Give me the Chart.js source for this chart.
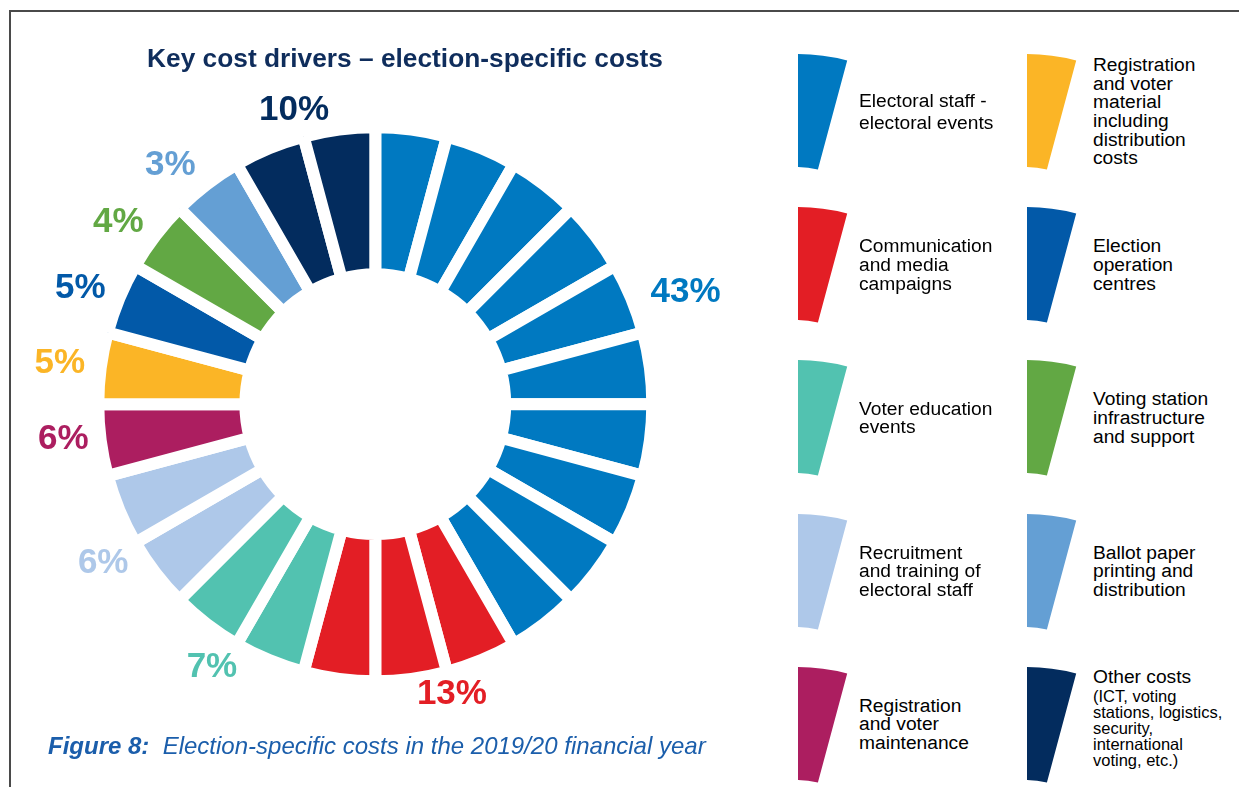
<!DOCTYPE html>
<html>
<head>
<meta charset="utf-8">
<script src="https://cdn.jsdelivr.net/npm/chart.js@4.4.0/dist/chart.umd.min.js"></script>
<style>
    body {
        margin: 0;
        width: 1239px;
        height: 787px;
        position: relative;
        overflow: hidden;
        background: #fff;
        font-family: "Liberation Sans", Arial, Helvetica, sans-serif;
    }
    #frame {
        position: absolute;
        left: 9px;
        top: 10px;
        width: 1300px;
        height: 900px;
        border-top: 2px solid #4a4a4a;
        border-left: 2px solid #4a4a4a;
    }
    #chart {
        position: absolute;
        left: 0;
        top: 0;
    }
    #title {
        position: absolute;
        left: 0;
        top: 43px;
        width: 810px;
        text-align: center;
        font-size: 26.3px;
        line-height: 30px;
        font-weight: bold;
        color: #0f2d5c;
    }
    #caption {
        position: absolute;
        left: 48px;
        top: 732px;
        font-size: 24px;
        line-height: 28px;
        font-style: italic;
        color: #1b5eab;
        white-space: pre;
    }
    #caption b {
        font-weight: bold;
    }
    .item {
        position: absolute;
        height: 116px;
        display: flex;
        align-items: center;
    }
    .item svg {
        position: absolute;
        left: 0;
        top: 0;
    }
    .item .text {
        font-size: 19.2px;
        line-height: 18.7px;
        color: #000;
        white-space: pre;
    }
    .item .note {
        font-size: 16.5px;
        line-height: 16px;
        margin-top: 1px;
    }
</style>
</head>
<body>
<div id="frame"></div>
<canvas id="chart" width="760" height="787"></canvas>
<div id="title">Key cost drivers – election-specific costs</div>
<div id="caption"><b>Figure 8:</b>  Election-specific costs in the 2019/20 financial year</div>
<div id="legend"></div>

<script>
// cost categories, clockwise from 12 o'clock
const categories = [
    'Electoral staff -\nelectoral events',
    'Communication\nand media\ncampaigns',
    'Voter education\nevents',
    'Recruitment\nand training of\nelectoral staff',
    'Registration\nand voter\nmaintenance',
    'Registration\nand voter\nmaterial\nincluding\ndistribution\ncosts',
    'Election\noperation\ncentres',
    'Voting station\ninfrastructure\nand support',
    'Ballot paper\nprinting and\ndistribution',
    'Other costs'
];
const otherNote = '(ICT, voting\nstations, logistics,\nsecurity,\ninternational\nvoting, etc.)';

// share of election-specific costs (%)
const shares = [43, 13, 7, 6, 6, 5, 5, 4, 3, 10];
// number of ring segments (out of 24) per category
const segments = [10, 3, 2, 2, 1, 1, 1, 1, 1, 2];

const colors = ['#0079c1', '#e31e25', '#52c2b0', '#aec8e9', '#ac1e60',
                '#fbb526', '#0259a8', '#62a844', '#649fd4', '#032c5e'];

// label placement: turn (deg) off the group's mid angle, distance past the ring
const labelTurn = [-4.9, -7.3, 1.8, -0.25, 1.0, -0.2, -1.0, -2.2, -3.1, -0.45];
const labelGap = [53, 23, 33, 38, 37, 41, 40, 38, 38, 28];

// one equal arc per segment
const segLabels = [];
const segValues = [];
const segColors = [];
categories.forEach((name, i) => {
    for (let s = 0; s < segments[i]; s++) {
        segLabels.push(name.replace(/\n/g, ' '));
        segValues.push(1);
        segColors.push(colors[i]);
    }
});

const shareLabels = {
    id: 'shareLabels',
    afterDatasetsDraw(chart) {
        const arcs = chart.getDatasetMeta(0).data;
        const ctx = chart.ctx;
        ctx.save();
        ctx.font = 'bold 35px "Liberation Sans", Arial, sans-serif';
        ctx.textAlign = 'center';
        ctx.textBaseline = 'middle';
        let k = 0;
        shares.forEach((v, i) => {
            const first = arcs[k];
            const last = arcs[k + segments[i] - 1];
            k += segments[i];
            const mid = (first.startAngle + last.endAngle) / 2 + labelTurn[i] * Math.PI / 180;
            const r = first.outerRadius + labelGap[i];
            ctx.fillStyle = colors[i];
            ctx.fillText(v + '%', first.x + r * Math.cos(mid), first.y + r * Math.sin(mid));
        });
        ctx.restore();
    }
};

new Chart(document.getElementById('chart'), {
    type: 'doughnut',
    data: {
        labels: segLabels,
        datasets: [{
            data: segValues,
            backgroundColor: segColors,
            borderColor: '#fff',
            borderWidth: 12,
            borderAlign: 'center'
        }]
    },
    options: {
        responsive: false,
        animation: false,
        events: [],
        radius: 277,
        cutout: '46.9%',
        layout: {
            padding: { left: 0, right: 9.4, top: 21.4, bottom: 0 }
        },
        plugins: {
            legend: { display: false },
            tooltip: { enabled: false }
        }
    },
    plugins: [shareLabels]
});

// legend: two columns of ring-segment swatches
const legend = document.getElementById('legend');
const iconPath = 'M0,0 A190,190 0 0 1 49.2,6.5 L19.9,115.6 A77,77 0 0 0 0,113 Z';
categories.forEach((name, i) => {
    const col = i < 5 ? 0 : 1;
    const row = i % 5;
    const item = document.createElement('div');
    item.className = 'item';
    item.style.left = [798, 1027][col] + 'px';
    item.style.top = (54 + row * 153.2) + 'px';
    item.innerHTML = '<svg width="50" height="116" viewBox="0 0 50 116"><path d="' + iconPath +
        '" fill="' + colors[i] + '"/></svg>';
    const text = document.createElement('div');
    text.className = 'text';
    text.style.marginLeft = [61, 66][col] + 'px';
    text.textContent = name;
    if (i === 0) text.style.lineHeight = '22px';
    if (i === categories.length - 1) {
        const note = document.createElement('div');
        note.className = 'note';
        note.textContent = otherNote;
        text.appendChild(note);
        text.style.transform = 'translateY(-7px)';
    }
    item.appendChild(text);
    legend.appendChild(item);
});
</script>
</body>
</html>
